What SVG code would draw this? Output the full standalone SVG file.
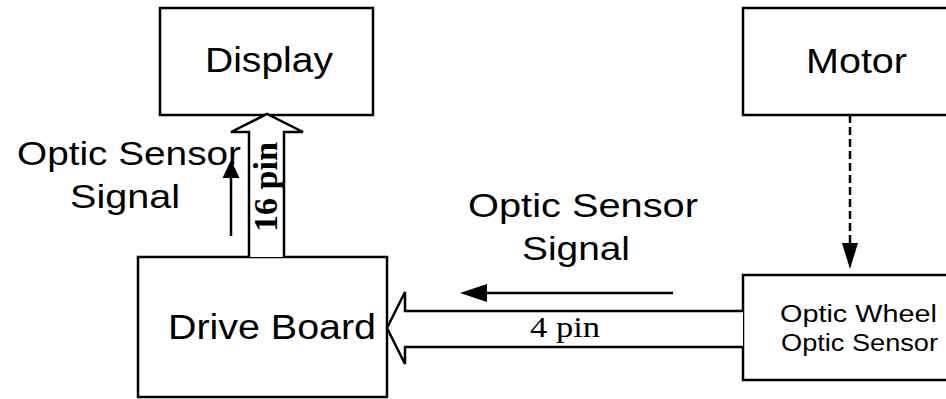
<svg xmlns="http://www.w3.org/2000/svg" width="946" height="399" viewBox="0 0 946 399">
<style>
.box{fill:#fff;stroke:#000;stroke-width:2.5}
.sans{font-family:"Liberation Sans",Arial,sans-serif;fill:#000}
.serif{font-family:"Liberation Serif","Times New Roman",serif;fill:#000}
.hollow{fill:#fff;stroke:#000;stroke-width:2.5;stroke-linejoin:miter}
.line{fill:none;stroke:#000;stroke-width:2.5}
.head{fill:#000}
</style>
<rect width="946" height="399" fill="#fff"/>
<g id="display">
<rect class="box" x="160" y="8" width="213" height="107"/>
<text class="sans" x="205" y="72" font-size="35" textLength="128" lengthAdjust="spacingAndGlyphs">Display</text>
</g>
<g id="motor">
<rect class="box" x="743" y="8" width="210" height="107"/>
<text class="sans" x="806" y="73" font-size="35" textLength="101" lengthAdjust="spacingAndGlyphs">Motor</text>
</g>
<g id="drive-board">
<rect class="box" x="138" y="257" width="249" height="140"/>
<text class="sans" x="168" y="339" font-size="35" textLength="208" lengthAdjust="spacingAndGlyphs">Drive Board</text>
</g>
<g id="optic-wheel">
<rect class="box" x="743" y="275" width="210" height="105"/>
<text class="sans" x="780" y="322" font-size="23" textLength="157" lengthAdjust="spacingAndGlyphs">Optic Wheel</text>
<text class="sans" x="781" y="351" font-size="23" textLength="157" lengthAdjust="spacingAndGlyphs">Optic Sensor</text>
</g>
<g id="connectors">
<path class="hollow" d="M249,257 L249,132 L231,132 L267,114 L303,132 L284,132 L284,257"/>
<path class="hollow" d="M743,311 L405,311 L405,292 L387,328 L405,364 L405,347 L743,347"/>
<line class="line" x1="850" y1="115" x2="850" y2="244" stroke-dasharray="8,4" stroke-width="2"/>
<path class="head" d="M842,243 L858,243 L850,269 Z"/>
<line class="line" x1="231" y1="236" x2="231" y2="178"/>
<path class="head" d="M222.5,178 L239.5,178 L231,160 Z"/>
<line class="line" x1="673" y1="293" x2="486" y2="293"/>
<path class="head" d="M487,284 L487,302 L460,293 Z"/>
</g>
<g id="labels">
<text class="sans" x="17" y="165" font-size="34" textLength="224" lengthAdjust="spacingAndGlyphs">Optic Sensor</text>
<text class="sans" x="70" y="208" font-size="34" textLength="110" lengthAdjust="spacingAndGlyphs">Signal</text>
<text class="sans" x="468" y="217" font-size="34" textLength="230" lengthAdjust="spacingAndGlyphs">Optic Sensor</text>
<text class="sans" x="522" y="260" font-size="34" textLength="108" lengthAdjust="spacingAndGlyphs">Signal</text>
<text class="serif" x="530" y="337" font-size="29" textLength="70" lengthAdjust="spacingAndGlyphs">4 pin</text>
<text class="serif" font-weight="bold" font-size="33" transform="translate(277,232) rotate(-90)" textLength="90" lengthAdjust="spacingAndGlyphs">16 pin</text>
</g>
</svg>
